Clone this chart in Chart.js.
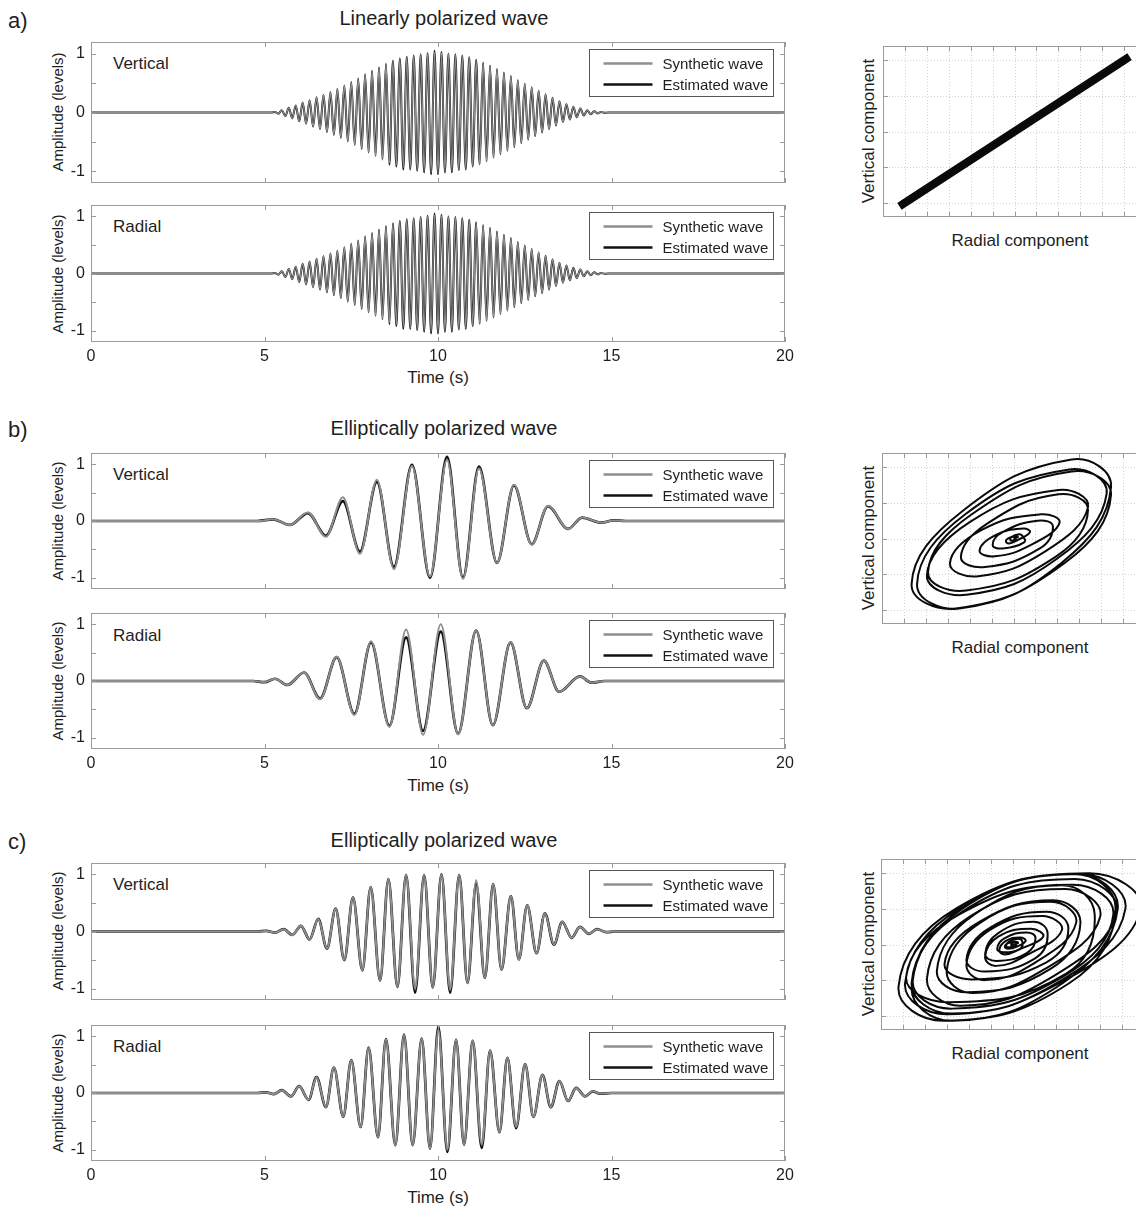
<!DOCTYPE html>
<html>
<head>
<meta charset="utf-8">
<script src="https://cdn.jsdelivr.net/npm/chart.js@4.4.1/dist/chart.umd.min.js"></script>
<style>
html, body { margin: 0; padding: 0; background: #fff; }
body { position: relative; width: 1136px; height: 1207px; overflow: hidden;
       font-family: "Liberation Sans", Arial, Helvetica, sans-serif; color: #1e1e1e; }
canvas { position: absolute; }
.t { position: absolute; white-space: nowrap; line-height: 1; }
.c { transform: translate(-50%, -50%); }
.l { transform: translate(0, -50%); }
.r { transform: translate(-50%, -50%) rotate(-90deg); }
</style>
</head>
<body>

<div class="t l" style="left:8px;top:21px;font-size:22px">a)</div>
<div class="t c" style="left:444px;top:18px;font-size:20px">Linearly polarized wave</div>
<div class="t l" style="left:8px;top:430px;font-size:22px">b)</div>
<div class="t c" style="left:444px;top:428px;font-size:20px">Elliptically polarized wave</div>
<div class="t l" style="left:8px;top:842px;font-size:22px">c)</div>
<div class="t c" style="left:444px;top:840px;font-size:20px">Elliptically polarized wave</div>

<div class="t r" style="left:57px;top:112px;font-size:15px">Amplitude (levels)</div>
<div class="t r" style="left:57px;top:274px;font-size:15px">Amplitude (levels)</div>
<div class="t r" style="left:57px;top:521px;font-size:15px">Amplitude (levels)</div>
<div class="t r" style="left:57px;top:681px;font-size:15px">Amplitude (levels)</div>
<div class="t r" style="left:57px;top:931px;font-size:15px">Amplitude (levels)</div>
<div class="t r" style="left:57px;top:1093px;font-size:15px">Amplitude (levels)</div>

<div class="t l" style="left:113px;top:63px;font-size:17px">Vertical</div>
<div class="t l" style="left:113px;top:226px;font-size:17px">Radial</div>
<div class="t l" style="left:113px;top:474px;font-size:17px">Vertical</div>
<div class="t l" style="left:113px;top:635px;font-size:17px">Radial</div>
<div class="t l" style="left:113px;top:884px;font-size:17px">Vertical</div>
<div class="t l" style="left:113px;top:1046px;font-size:17px">Radial</div>

<div class="t c" style="left:438px;top:377px;font-size:17px">Time (s)</div>
<div class="t c" style="left:438px;top:785px;font-size:17px">Time (s)</div>
<div class="t c" style="left:438px;top:1197px;font-size:17px">Time (s)</div>

<div class="t r" style="left:868px;top:131px;font-size:17px">Vertical component</div>
<div class="t r" style="left:868px;top:538px;font-size:17px">Vertical component</div>
<div class="t r" style="left:868px;top:944px;font-size:17px">Vertical component</div>
<div class="t c" style="left:1020px;top:240px;font-size:17px">Radial component</div>
<div class="t c" style="left:1020px;top:647px;font-size:17px">Radial component</div>
<div class="t c" style="left:1020px;top:1053px;font-size:17px">Radial component</div>

<canvas id="a-vert" width="800" height="151" style="left:0;top:32px"></canvas>
<canvas id="a-rad" width="800" height="177" style="left:0;top:195px"></canvas>
<canvas id="b-vert" width="800" height="146" style="left:0;top:443px"></canvas>
<canvas id="b-rad" width="800" height="176" style="left:0;top:603px"></canvas>
<canvas id="c-vert" width="800" height="147" style="left:0;top:853px"></canvas>
<canvas id="c-rad" width="800" height="176" style="left:0;top:1015px"></canvas>

<canvas id="a-hodo" width="273" height="181" style="left:878px;top:41px"></canvas>
<canvas id="b-hodo" width="273" height="181" style="left:877px;top:448px"></canvas>
<canvas id="c-hodo" width="273" height="181" style="left:876px;top:854px"></canvas>

<script>
// tick values
var timeTicks = [0, 5, 10, 15, 20];
var ampTicks = [-1, -0.5, 0, 0.5, 1];
var hodoXTicks = [-1, -0.8, -0.6, -0.4, -0.2, 0, 0.2, 0.4, 0.6, 0.8, 1];
var hodoYTicks = [-1, -0.5, 0, 0.5, 1];

// a) linearly polarized: times of the peaks/troughs (s) and their levels
// (radial traces look identical to the vertical ones)
var aTimes = [0, 5.2, 5.3, 5.4, 5.5, 5.6, 5.7, 5.8, 5.9, 6.0, 6.1, 6.2, 6.3, 6.4, 6.5, 6.6, 6.7, 6.8, 6.9, 7.0,
  7.1, 7.2, 7.3, 7.4, 7.5, 7.6, 7.7, 7.8, 7.9, 8.0, 8.1, 8.2, 8.3, 8.4, 8.5, 8.6, 8.7, 8.8, 8.9, 9.0,
  9.1, 9.2, 9.3, 9.4, 9.5, 9.6, 9.7, 9.8, 9.9, 10.0, 10.1, 10.2, 10.3, 10.4, 10.5, 10.6, 10.7, 10.8, 10.9, 11.0,
  11.1, 11.2, 11.3, 11.4, 11.5, 11.6, 11.7, 11.8, 11.9, 12.0, 12.1, 12.2, 12.3, 12.4, 12.5, 12.6, 12.7, 12.8, 12.9, 13.0,
  13.1, 13.2, 13.3, 13.4, 13.5, 13.6, 13.7, 13.8, 13.9, 14.0, 14.1, 14.2, 14.3, 14.4, 14.5, 14.6, 14.7, 14.8, 14.9, 20];
var aSynthetic = [0, 0, 0.01, -0.02, 0.04, -0.06, 0.08, -0.1, 0.12, -0.15, 0.17, -0.19,
  0.21, -0.24, 0.26, -0.28, 0.3, -0.33, 0.35, -0.38, 0.4, -0.43,
  0.46, -0.49, 0.52, -0.55, 0.58, -0.62, 0.65, -0.68, 0.71, -0.74,
  0.77, -0.8, 0.83, -0.86, 0.88, -0.9, 0.92, -0.94, 0.95, -0.96,
  0.97, -0.98, 0.99, -1.0, 1.01, -1.02, 1.03, -1.03, 1.02, -1.01,
  1.0, -1.0, 0.99, -0.98, 0.97, -0.96, 0.94, -0.92, 0.9, -0.88,
  0.85, -0.83, 0.8, -0.77, 0.74, -0.71, 0.68, -0.65, 0.62, -0.59,
  0.55, -0.52, 0.49, -0.46, 0.43, -0.4, 0.37, -0.34, 0.31, -0.28,
  0.25, -0.22, 0.19, -0.16, 0.14, -0.12, 0.1, -0.08, 0.07, -0.05,
  0.04, -0.03, 0.02, -0.015, 0.01, -0.005, 0, 0];
var aEstimated = [0, 0, 0.01, -0.02, 0.04, -0.06, 0.08, -0.1, 0.12, -0.15, 0.17, -0.19,
  0.21, -0.24, 0.26, -0.28, 0.3, -0.33, 0.35, -0.38, 0.4, -0.43,
  0.46, -0.49, 0.52, -0.55, 0.58, -0.62, 0.65, -0.68, 0.71, -0.74,
  0.77, -0.8, 0.83, -0.89, 0.88, -0.92, 0.92, -0.97, 0.95, -0.97,
  0.97, -0.99, 0.99, -1.02, 1.01, -1.05, 1.05, -1.05, 1.03, -1.02,
  1.0, -1.02, 0.99, -0.98, 0.97, -0.97, 0.94, -0.92, 0.9, -0.88,
  0.85, -0.83, 0.8, -0.77, 0.74, -0.71, 0.68, -0.65, 0.62, -0.59,
  0.55, -0.52, 0.49, -0.46, 0.43, -0.4, 0.37, -0.34, 0.31, -0.28,
  0.25, -0.22, 0.19, -0.16, 0.14, -0.12, 0.1, -0.08, 0.07, -0.05,
  0.04, -0.03, 0.02, -0.015, 0.01, -0.005, 0, 0];

// b) elliptically polarized, ~1 s period
var bVertTimes = [0, 4.8, 5.25, 5.73, 6.25, 6.77, 7.26, 7.75, 8.24, 8.73, 9.25, 9.77, 10.26, 10.72,
  11.18, 11.7, 12.19, 12.7, 13.17, 13.75, 14.15, 14.72, 15.05, 15.4, 20];
var bVertSynthetic = [0, 0, 0.03, -0.07, 0.15, -0.28, 0.42, -0.58, 0.73, -0.85, 0.97, -0.98, 1.08, -1.02,
  0.93, -0.74, 0.64, -0.42, 0.27, -0.14, 0.06, -0.03, 0.01, 0, 0];
var bVertEstimated = [0, 0, 0.03, -0.07, 0.14, -0.26, 0.35, -0.54, 0.69, -0.81, 0.99, -1.0, 1.13, -1.0,
  0.96, -0.74, 0.63, -0.41, 0.26, -0.14, 0.06, -0.03, 0.01, 0, 0];
var bRadTimes = [0, 4.67, 5.0, 5.3, 5.66, 6.14, 6.6, 7.08, 7.59, 8.07, 8.6, 9.08, 9.57, 10.08,
  10.58, 11.1, 11.58, 12.09, 12.56, 13.05, 13.49, 14.09, 14.43, 14.8, 20];
var bRadSynthetic = [0, 0, -0.02, 0.04, -0.07, 0.15, -0.32, 0.43, -0.6, 0.7, -0.81, 0.91, -0.95, 1.0,
  -0.94, 0.89, -0.78, 0.69, -0.48, 0.36, -0.19, 0.08, -0.03, 0, 0];
var bRadEstimated = [0, 0, -0.02, 0.04, -0.07, 0.15, -0.31, 0.42, -0.58, 0.68, -0.79, 0.77, -0.88, 0.87,
  -0.93, 0.89, -0.78, 0.68, -0.48, 0.36, -0.19, 0.08, -0.03, 0, 0];
// hodogram b (radial vs vertical), six points read around each loop
var bHodoRadial = [0,
  0.04, 0.02, -0.04, -0.07, -0.04, 0.04,
  0.15, 0.09, -0.16, -0.31, -0.17, 0.16,
  0.42, 0.25, -0.29, -0.58, -0.32, 0.29,
  0.68, 0.41, -0.4, -0.79, -0.43, 0.4,
  0.85, 0.51, -0.44, -0.88, -0.48, 0.44,
  0.89, 0.53, -0.47, -0.93, -0.51, 0.47,
  0.89, 0.53, -0.39, -0.78, -0.43, 0.39,
  0.68, 0.41, -0.24, -0.48, -0.26, 0.24,
  0.36, 0.22, -0.1, -0.19, -0.1, 0.1,
  0.08, 0.05, -0.02, -0.03, -0.02, 0.02,
  0];
var bHodoVertical = [0,
  0.02, 0.03, 0.01, -0.04, -0.07, -0.02,
  0.09, 0.14, 0.05, -0.17, -0.25, -0.09,
  0.22, 0.34, 0.12, -0.35, -0.53, -0.18,
  0.44, 0.68, 0.23, -0.52, -0.79, -0.28,
  0.63, 0.97, 0.34, -0.64, -0.98, -0.34,
  0.72, 1.11, 0.38, -0.64, -0.98, -0.34,
  0.61, 0.94, 0.33, -0.47, -0.73, -0.25,
  0.4, 0.62, 0.21, -0.26, -0.4, -0.14,
  0.17, 0.25, 0.09, -0.09, -0.14, -0.05,
  0.04, 0.06, 0.02, -0.02, -0.03, -0.01,
  0];

// c) elliptically polarized, ~0.5 s period
var cVertTimes = [0, 4.8, 5.05, 5.3, 5.55, 5.8, 6.05, 6.3, 6.55, 6.8, 7.05, 7.3,
  7.55, 7.82, 8.06, 8.33, 8.57, 8.83, 9.08, 9.34, 9.6, 9.85,
  10.1, 10.35, 10.61, 10.85, 11.1, 11.35, 11.59, 11.83, 12.1, 12.33,
  12.57, 12.84, 13.08, 13.34, 13.58, 13.85, 14.09, 14.35, 14.58, 14.85, 15.1, 20];
var cVertSynthetic = [0, 0, 0.01, -0.02, 0.04, -0.06, 0.1, -0.14, 0.22, -0.3, 0.4, -0.5,
  0.6, -0.68, 0.78, -0.86, 0.92, -0.97, 0.99, -1.0, 0.99, -0.98,
  1.0, -1.02, 0.99, -0.9, 0.9, -0.81, 0.83, -0.67, 0.62, -0.49,
  0.46, -0.38, 0.32, -0.23, 0.17, -0.11, 0.08, -0.04, 0.04, -0.01, 0, 0];
var cVertEstimated = [0, 0, 0.01, -0.02, 0.04, -0.06, 0.1, -0.14, 0.22, -0.3, 0.4, -0.5,
  0.6, -0.68, 0.78, -0.86, 0.92, -0.97, 0.99, -1.07, 0.99, -0.98,
  1.0, -1.07, 0.99, -0.9, 0.84, -0.81, 0.83, -0.67, 0.62, -0.49,
  0.46, -0.38, 0.32, -0.23, 0.17, -0.11, 0.08, -0.04, 0.04, -0.01, 0, 0];
var cRadTimes = [0, 4.8, 5.05, 5.27, 5.5, 5.76, 6.0, 6.27, 6.5, 6.77, 7.0, 7.27,
  7.5, 7.77, 8.0, 8.27, 8.5, 8.77, 9.02, 9.27, 9.53, 9.77,
  10.01, 10.27, 10.52, 10.75, 11.0, 11.26, 11.5, 11.77, 12.0, 12.25,
  12.51, 12.75, 13.01, 13.25, 13.5, 13.75, 13.98, 14.24, 14.46, 14.67, 15.0, 20];
var cRadSynthetic = [0, 0, 0.01, -0.02, 0.05, -0.06, 0.12, -0.12, 0.28, -0.25, 0.45, -0.42,
  0.58, -0.6, 0.8, -0.78, 0.95, -0.92, 1.03, -0.92, 0.96, -0.98,
  1.12, -1.0, 0.94, -0.91, 0.92, -0.91, 0.75, -0.69, 0.62, -0.6,
  0.51, -0.42, 0.32, -0.25, 0.21, -0.14, 0.09, -0.06, 0.03, -0.01, 0, 0];
var cRadEstimated = [0, 0, 0.01, -0.02, 0.05, -0.06, 0.12, -0.12, 0.28, -0.25, 0.45, -0.42,
  0.58, -0.6, 0.8, -0.78, 0.95, -0.92, 1.03, -0.92, 0.96, -0.98,
  1.17, -1.04, 0.94, -0.91, 0.92, -0.97, 0.75, -0.69, 0.62, -0.62,
  0.51, -0.42, 0.32, -0.25, 0.21, -0.14, 0.09, -0.06, 0.03, -0.01, 0, 0];
// hodogram c, six points read around each loop
var cHodoRadial = [0,
  0.05, 0.03, -0.04, -0.07, -0.04, 0.04,
  0.12, 0.07, -0.06, -0.12, -0.07, 0.06,
  0.28, 0.17, -0.13, -0.25, -0.15, 0.13,
  0.45, 0.27, -0.21, -0.42, -0.25, 0.21,
  0.58, 0.35, -0.3, -0.6, -0.36, 0.3,
  0.8, 0.48, -0.39, -0.78, -0.47, 0.39,
  0.95, 0.57, -0.46, -0.92, -0.55, 0.46,
  1.03, 0.62, -0.46, -0.92, -0.55, 0.46,
  0.96, 0.58, -0.49, -0.98, -0.59, 0.49,
  1.17, 0.7, -0.52, -1.04, -0.62, 0.52,
  0.94, 0.56, -0.46, -0.91, -0.55, 0.46,
  0.92, 0.55, -0.49, -0.97, -0.58, 0.49,
  0.75, 0.45, -0.35, -0.69, -0.41, 0.35,
  0.62, 0.37, -0.31, -0.62, -0.37, 0.31,
  0.51, 0.31, -0.21, -0.42, -0.25, 0.21,
  0.32, 0.19, -0.13, -0.25, -0.15, 0.13,
  0.21, 0.13, -0.07, -0.14, -0.08, 0.07,
  0.09, 0.05, -0.03, -0.06, -0.04, 0.03,
  0.03, 0.02, -0.01, -0.01, -0.01, 0.01,
  0];
var cHodoVertical = [0,
  0.02, 0.04, 0.02, -0.03, -0.06, -0.03,
  0.05, 0.1, 0.05, -0.08, -0.14, -0.07,
  0.11, 0.22, 0.11, -0.17, -0.3, -0.15,
  0.2, 0.4, 0.2, -0.28, -0.5, -0.25,
  0.3, 0.6, 0.3, -0.37, -0.68, -0.34,
  0.39, 0.78, 0.39, -0.47, -0.86, -0.43,
  0.46, 0.92, 0.46, -0.53, -0.97, -0.49,
  0.5, 0.99, 0.5, -0.59, -1.07, -0.54,
  0.5, 0.99, 0.5, -0.54, -0.98, -0.49,
  0.5, 1.0, 0.5, -0.59, -1.07, -0.54,
  0.5, 0.99, 0.5, -0.5, -0.9, -0.45,
  0.42, 0.84, 0.42, -0.45, -0.81, -0.41,
  0.42, 0.83, 0.42, -0.37, -0.67, -0.34,
  0.31, 0.62, 0.31, -0.27, -0.49, -0.25,
  0.23, 0.46, 0.23, -0.21, -0.38, -0.19,
  0.16, 0.32, 0.16, -0.13, -0.23, -0.12,
  0.09, 0.17, 0.09, -0.06, -0.11, -0.06,
  0.04, 0.08, 0.04, -0.02, -0.04, -0.02,
  0.02, 0.04, 0.02, -0.01, -0.01, -0.01,
  0];

Chart.defaults.font.family = '"Liberation Sans", Arial, Helvetica, sans-serif';
Chart.defaults.color = '#1e1e1e';

var FRAME = '#9a9a9a';

function pts(xs, ys) {
  return xs.map(function (x, i) { return { x: x, y: ys[i] }; });
}

// box, inside ticks, dotted grid and legend like the original matlab figure
var framePlugin = {
  id: 'frame',
  beforeDatasetsDraw: function (chart, args, opts) {
    if (!opts.dotted) return;
    var ctx = chart.ctx, a = chart.chartArea, sx = chart.scales.x, sy = chart.scales.y;
    ctx.save();
    ctx.strokeStyle = '#d2d2d2';
    ctx.lineWidth = 1;
    ctx.setLineDash([1, 2]);
    opts.xTicks.forEach(function (v) {
      var p = Math.round(sx.getPixelForValue(v)) + 0.5;
      ctx.beginPath(); ctx.moveTo(p, a.top); ctx.lineTo(p, a.bottom); ctx.stroke();
    });
    opts.yTicks.forEach(function (v) {
      var p = Math.round(sy.getPixelForValue(v)) + 0.5;
      ctx.beginPath(); ctx.moveTo(a.left, p); ctx.lineTo(a.right, p); ctx.stroke();
    });
    ctx.restore();
  },
  afterDatasetsDraw: function (chart, args, opts) {
    var ctx = chart.ctx, a = chart.chartArea, sx = chart.scales.x, sy = chart.scales.y;
    ctx.save();
    ctx.strokeStyle = FRAME;
    ctx.lineWidth = 1;
    var tl = 5;
    opts.xTicks.forEach(function (v) {
      var p = Math.round(sx.getPixelForValue(v)) + 0.5;
      ctx.beginPath();
      ctx.moveTo(p, a.bottom); ctx.lineTo(p, a.bottom - tl);
      ctx.moveTo(p, a.top); ctx.lineTo(p, a.top + tl);
      ctx.stroke();
    });
    opts.yTicks.forEach(function (v) {
      var p = Math.round(sy.getPixelForValue(v)) + 0.5;
      ctx.beginPath();
      ctx.moveTo(a.left, p); ctx.lineTo(a.left + tl, p);
      ctx.moveTo(a.right, p); ctx.lineTo(a.right - tl, p);
      ctx.stroke();
    });
    ctx.strokeRect(Math.round(a.left) + 0.5, Math.round(a.top) + 0.5,
      Math.round(a.width) - 1, Math.round(a.height) - 1);

    if (opts.legend) {
      var bx = Math.round(a.right) - 196 + 0.5, by = Math.round(a.top) + 7 + 0.5, bw = 184, bh = 47;
      ctx.fillStyle = '#fff';
      ctx.fillRect(bx, by, bw, bh);
      ctx.strokeStyle = '#555';
      ctx.strokeRect(bx, by, bw, bh);
      ctx.font = '15px "Liberation Sans", Arial, sans-serif';
      ctx.textBaseline = 'middle';
      chart.data.datasets.forEach(function (ds, i) {
        var ly = by + 14 + i * 21;
        ctx.strokeStyle = ds.borderColor;
        ctx.lineWidth = 2.5;
        ctx.beginPath(); ctx.moveTo(bx + 14, ly); ctx.lineTo(bx + 63, ly); ctx.stroke();
        ctx.fillStyle = '#1e1e1e';
        ctx.fillText(ds.label, bx + 73, ly + 1);
      });
    }
    ctx.restore();
  }
};

function waveChart(id, times, synth, est, withTime, lw) {
  new Chart(document.getElementById(id), {
    type: 'line',
    data: {
      datasets: [
        { label: 'Synthetic wave', data: pts(times, synth), borderColor: '#8e8e8e', borderWidth: lw },
        { label: 'Estimated wave', data: pts(times, est), borderColor: '#111111', borderWidth: lw + 0.7 }
      ]
    },
    options: {
      responsive: false,
      animation: false,
      events: [],
      layout: { padding: { left: 0, right: 15, top: 10, bottom: 0 } },
      elements: {
        point: { radius: 0 },
        line: { cubicInterpolationMode: 'monotone', fill: false }
      },
      plugins: {
        legend: { display: false },
        tooltip: { enabled: false },
        frame: { xTicks: timeTicks, yTicks: ampTicks, legend: true }
      },
      scales: {
        x: {
          type: 'linear', min: 0, max: 20,
          afterBuildTicks: function (s) { s.ticks = timeTicks.map(function (v) { return { value: v }; }); },
          afterFit: function (s) { s.height = withTime ? 30 : 0; s.paddingLeft = 0; s.paddingRight = 0; },
          ticks: { display: withTime, padding: 5, maxRotation: 0, font: { size: 16 }, color: '#1e1e1e' },
          grid: { display: false, drawTicks: false, tickLength: 0 },
          border: { display: false }
        },
        y: {
          type: 'linear', min: -1.2, max: 1.2,
          afterBuildTicks: function (s) { s.ticks = ampTicks.map(function (v) { return { value: v }; }); },
          afterFit: function (s) { s.width = 91; s.paddingTop = 0; s.paddingBottom = 0; },
          ticks: {
            padding: 6, font: { size: 16 }, color: '#1e1e1e',
            callback: function (v) { return (v === 0 || v === 1 || v === -1) ? String(v) : ''; }
          },
          grid: { display: false, drawTicks: false, tickLength: 0 },
          border: { display: false }
        }
      }
    },
    plugins: [framePlugin]
  });
}

function hodoChart(id, radial, vertical, lw, tension) {
  new Chart(document.getElementById(id), {
    type: 'scatter',
    data: {
      datasets: [{
        data: pts(radial, vertical), showLine: true, borderColor: '#0a0a0a',
        borderWidth: lw, tension: tension, pointRadius: 0, fill: false
      }]
    },
    options: {
      responsive: false,
      animation: false,
      events: [],
      layout: { padding: 5 },
      plugins: {
        legend: { display: false },
        tooltip: { enabled: false },
        frame: { xTicks: hodoXTicks, yTicks: hodoYTicks, dotted: true, legend: false }
      },
      scales: {
        x: {
          type: 'linear', min: -1.2, max: 1.2,
          afterFit: function (s) { s.height = 0; s.paddingLeft = 0; s.paddingRight = 0; },
          ticks: { display: false }, grid: { display: false }, border: { display: false }
        },
        y: {
          type: 'linear', min: -1.2, max: 1.2,
          afterFit: function (s) { s.width = 0; s.paddingTop = 0; s.paddingBottom = 0; },
          ticks: { display: false }, grid: { display: false }, border: { display: false }
        }
      }
    },
    plugins: [framePlugin]
  });
}

waveChart('a-vert', aTimes, aSynthetic, aEstimated, false, 1.3);
waveChart('a-rad', aTimes, aSynthetic, aEstimated, true, 1.3);
waveChart('b-vert', bVertTimes, bVertSynthetic, bVertEstimated, false, 2);
waveChart('b-rad', bRadTimes, bRadSynthetic, bRadEstimated, true, 2);
waveChart('c-vert', cVertTimes, cVertSynthetic, cVertEstimated, false, 2);
waveChart('c-rad', cRadTimes, cRadSynthetic, cRadEstimated, true, 2);

hodoChart('a-hodo', aEstimated, aEstimated, 8, 0);
hodoChart('b-hodo', bHodoRadial, bHodoVertical, 2, 0.45);
hodoChart('c-hodo', cHodoRadial, cHodoVertical, 2, 0.45);
</script>
</body>
</html>
